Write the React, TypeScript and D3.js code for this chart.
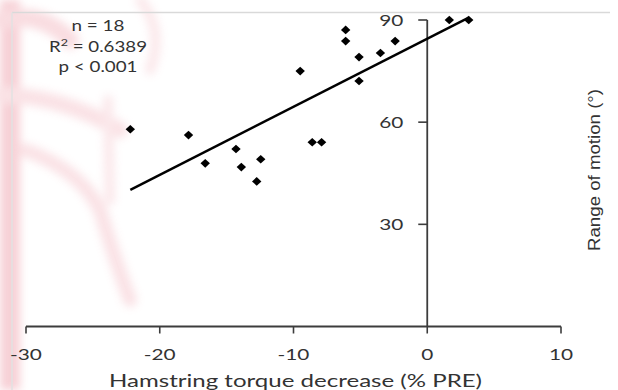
import React from "react";
import * as d3 from "d3";

// ---- data ----
const torqueDecrease = [-22.2, -17.85, -16.6, -14.3, -13.9, -12.75, -12.45, -9.5, -8.6, -7.9, -6.1, -6.1, -5.1, -5.1, -3.5, -2.4, 1.65, 3.1];
const rangeOfMotion = [57.9, 56.2, 47.9, 52.1, 46.8, 42.6, 49.1, 75.0, 54.1, 54.1, 87.1, 83.8, 79.1, 72.1, 80.3, 83.8, 90.0, 90.0];
const fitIntercept = 84.5;
const fitSlope = 2.0;
const fitDomain = [-22.2, 3.1];
const xTicks = [-30, -20, -10, 0, 10];
const yTicks = [30, 60, 90];
const statsLines = ["n = 18", "R² = 0.6389", "p < 0.001"];
const xTitle = "Hamstring torque decrease (% PRE)";
const yTitle = "Range of motion (°)";

const W = 618;
const H = 390;

export default function App() {
  const x = d3.scaleLinear().domain([-30, 10]).range([26, 561]);
  const y = d3.scaleLinear().domain([0, 90]).range([326.5, 20]);
  const x0 = x(0);
  const y0 = y(0);
  const axisColor = "#3c3c3c";
  const font = "Lato, 'Open Sans', sans-serif";

  const fitLine = d3
    .line<number>()
    .x((d) => x(d))
    .y((d) => y(fitIntercept + fitSlope * d));

  const diamond = "M0,-4.3L4.7,0L0,4.3L-4.7,0Z";

  return (
    <svg
      width={W}
      height={H}
      viewBox={`0 0 ${W} ${H}`}
      style={{ position: "absolute", left: 0, top: 0, background: "#fff" }}
    >
      <defs>
        <filter id="blur" x="-20%" y="-20%" width="140%" height="140%">
          <feGaussianBlur stdDeviation="4" />
        </filter>
      </defs>
      <rect x={0} y={0} width={W} height={H} fill="#fff" />
      {/* faint pink background artifact */}
      <g filter="url(#blur)" fill="none" strokeLinecap="round" opacity={0.45}>
        <rect x={0} y={0} width={20} height={H} fill="#ee9aa6" />
        <path d="M0,20 Q40,10 70,40" stroke="#f2b3bc" strokeWidth={18} />
        <path d="M0,95 Q60,95 120,130" stroke="#f4c0c7" strokeWidth={16} />
        <path d="M25,150 Q80,170 100,210 Q115,260 130,300" stroke="#f4c0c7" strokeWidth={14} />
        <path d="M108,100 L110,200" stroke="#f6ccd2" strokeWidth={10} />
        <path d="M140,0 Q165,30 150,70" stroke="#f6ccd2" strokeWidth={10} />
      </g>

      {/* frame lines */}
      <line x1={12} x2={610} y1={12.5} y2={12.5} stroke="#d9d9d9" strokeWidth={1.5} />
      <line x1={12} x2={12} y1={12.5} y2={H} stroke="#e2e2e2" strokeWidth={1.5} />

      {/* x axis */}
      <line x1={x(-30)} x2={x(10)} y1={y0} y2={y0} stroke={axisColor} strokeWidth={1.8} />
      {xTicks.map((t) => (
        <g key={"xt" + t}>
          <line x1={x(t)} x2={x(t)} y1={y0} y2={y0 + 7} stroke={axisColor} strokeWidth={1.6} />
          <g transform={`translate(${x(t)},${360}) scale(1.3,1)`}>
            <text textAnchor="middle" fontFamily={font} fontSize={16} fill="#333">
              {String(t)}
            </text>
          </g>
        </g>
      ))}

      {/* y axis */}
      <line x1={x0} x2={x0} y1={y0} y2={y(90)} stroke={axisColor} strokeWidth={1.8} />
      {yTicks.map((t) => (
        <g key={"yt" + t}>
          <line x1={x0 - 9} x2={x0} y1={y(t)} y2={y(t)} stroke={axisColor} strokeWidth={1.6} />
          <g transform={`translate(${x0 - 24},${y(t)}) scale(1.3,1)`}>
            <text textAnchor="end" dy="0.36em" fontFamily={font} fontSize={16} fill="#333">
              {String(t)}
            </text>
          </g>
        </g>
      ))}

      {/* regression line */}
      <path d={fitLine(fitDomain) || ""} fill="none" stroke="#000" strokeWidth={2.4} />

      {/* points */}
      {torqueDecrease.map((d, i) => (
        <path key={"p" + i} d={diamond} transform={`translate(${x(d)},${y(rangeOfMotion[i])})`} fill="#000" />
      ))}

      {/* stats annotation */}
      <text x={98} y={31} textAnchor="middle" fontFamily={font} fontSize={15} fill="#333" textLength={53} lengthAdjust="spacingAndGlyphs">
        {statsLines[0]}
      </text>
      <text x={98} y={52} textAnchor="middle" fontFamily={font} fontSize={15} fill="#333" textLength={98} lengthAdjust="spacingAndGlyphs">
        R<tspan fontSize={10} dy={-6}>2</tspan>
        <tspan dy={6}>{statsLines[1].slice(2)}</tspan>
      </text>
      <text x={98} y={72} textAnchor="middle" fontFamily={font} fontSize={15} fill="#333" textLength={79} lengthAdjust="spacingAndGlyphs">
        {statsLines[2]}
      </text>

      {/* axis titles */}
      <text x={295.5} y={387} textAnchor="middle" fontFamily={font} fontSize={18} fill="#333" textLength={373} lengthAdjust="spacingAndGlyphs">
        {xTitle}
      </text>
      <text
        transform={`translate(600,170) rotate(-90)`}
        textAnchor="middle"
        fontFamily="'Liberation Sans', Arial, sans-serif"
        fontSize={16}
        fill="#333"
        textLength={162}
        lengthAdjust="spacingAndGlyphs"
      >
        {yTitle}
      </text>
    </svg>
  );
}
